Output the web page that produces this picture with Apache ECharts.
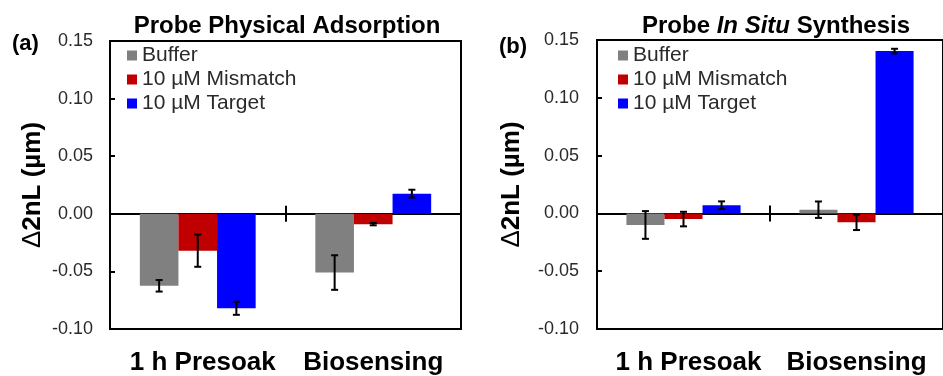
<!DOCTYPE html>
<html>
<head>
<meta charset="utf-8">
<script src="https://cdn.jsdelivr.net/npm/echarts@6/dist/echarts.min.js"></script>
<style>
html,body{margin:0;padding:0;background:#fff;}
#chart{width:943px;height:376px;}
</style>
</head>
<body>
<div id="chart"></div>
<script>
// ---- data ----
const categories = ['1 h Presoak', 'Biosensing'];
const seriesNames = ['Buffer', '10 µM Mismatch', '10 µM Target'];
const seriesColors = ['#808080', '#C00000', '#0000FF'];
const yTicks = { min: -0.10, max: 0.15, interval: 0.05 };

// Panel (a): Probe Physical Adsorption
const aBuffer = [-0.0625, -0.051];
const aBufferErr = [0.005, 0.015];
const aMismatch = [-0.032, -0.009];
const aMismatchErr = [0.014, 0.001];
const aTarget = [-0.082, 0.0175];
const aTargetErr = [0.0057, 0.0034];

// Panel (b): Probe In Situ Synthesis
const bBuffer = [-0.010, 0.0032];
const bBufferErr = [0.012, 0.0071];
const bMismatch = [-0.0049, -0.0077];
const bMismatchErr = [0.0063, 0.0067];
const bTarget = [0.0071, 0.1404];
const bTargetErr = [0.0033, 0.002];

const FONT = 'Liberation Sans, Arial, sans-serif';
const CAT_GAP = 0.34;

function errRender(k) {
  return function (params, api) {
    const ci = api.value(0), v = api.value(1), e = api.value(2);
    const c = api.coord([ci, v]);
    const bandW = api.size([1, 0])[0];
    const barW = bandW * (1 - CAT_GAP) / 3;
    const x = c[0] + (k - 1) * barW;
    const yt = api.coord([ci, v + e])[1];
    const yb = api.coord([ci, v - e])[1];
    const cap = 3.5;
    const st = { stroke: '#000', lineWidth: 2 };
    return {
      type: 'group',
      children: [
        { type: 'line', shape: { x1: x, y1: yt, x2: x, y2: yb }, style: st },
        { type: 'line', shape: { x1: x - cap, y1: yt, x2: x + cap, y2: yt }, style: st },
        { type: 'line', shape: { x1: x - cap, y1: yb, x2: x + cap, y2: yb }, style: st }
      ]
    };
  };
}

const catLabelStyle = { fontFamily: FONT, fontSize: 26, fontWeight: 'bold', color: '#000' };

function makeGridAxes(g, yIdx) {
  const base = { type: 'category', data: categories, gridIndex: g, boundaryGap: true };
  return [
    Object.assign({}, base, {
      position: 'bottom',
      axisLine: { onZero: true, onZeroAxisIndex: yIdx, lineStyle: { color: '#000', width: 2 } },
      axisTick: { show: true, inside: false, length: 8, interval: 0, lineStyle: { color: '#000', width: 2 } },
      axisLabel: { show: false }
    }),
    Object.assign({}, base, {
      position: 'bottom',
      axisLine: { onZero: true, onZeroAxisIndex: yIdx, lineStyle: { color: '#000', width: 2 } },
      axisTick: { show: true, inside: true, length: 8, interval: 0, lineStyle: { color: '#000', width: 2 } },
      axisLabel: { show: false }
    }),
    Object.assign({}, base, {
      position: 'bottom',
      axisLine: { show: false, onZero: false },
      axisTick: { show: false },
      axisLabel: Object.assign({
        show: true, interval: 0, margin: 21,
        formatter: (v, i) => i === 0 ? '{p|' + v + '}' : '{q|' + v + '}',
        rich: {
          p: Object.assign({ padding: [0, 0, 0, 10] }, catLabelStyle),
          q: Object.assign({}, catLabelStyle)
        }
      }, catLabelStyle)
    })
  ];
}

function makeYAxis(g, nameGap, labelMargin) {
  return {
    type: 'value', gridIndex: g,
    min: yTicks.min, max: yTicks.max, interval: yTicks.interval,
    name: '{d|Δ}2nL (µm)', nameLocation: 'middle', nameRotate: 90, nameGap: nameGap,
    nameTextStyle: {
      fontFamily: FONT, fontSize: 26, fontWeight: 'bold', color: '#000',
      rich: { d: { fontFamily: FONT, fontSize: 26, fontWeight: 'normal', color: '#000' } }
    },
    axisLine: { show: true, onZero: false, lineStyle: { color: '#000', width: 2 } },
    axisTick: { show: true, inside: true, length: 5, lineStyle: { color: '#000', width: 2 } },
    splitLine: { show: false },
    axisLabel: {
      margin: labelMargin, fontFamily: FONT, fontSize: 18, color: '#2a2a2a',
      formatter: v => v.toFixed(2)
    }
  };
}

function panelSeries(g, vals, errs) {
  const out = [];
  vals.forEach((arr, k) => {
    out.push({
      type: 'bar', name: seriesNames[k], xAxisIndex: g * 3, yAxisIndex: g,
      data: arr, barGap: '0%', barCategoryGap: (CAT_GAP * 100) + '%',
      itemStyle: { color: seriesColors[k] }, z: 2, animation: false
    });
  });
  vals.forEach((arr, k) => {
    out.push({
      type: 'custom', xAxisIndex: g * 3, yAxisIndex: g, z: 5,
      renderItem: errRender(k),
      encode: { x: 0, y: 1 },
      data: arr.map((v, i) => [i, v, errs[k][i]]),
      animation: false, silent: true
    });
  });
  return out;
}

function makeLegend(left, top) {
  return {
    orient: 'vertical', left: left, top: top, padding: 0,
    itemWidth: 10, itemHeight: 10, itemGap: 3, icon: 'rect',
    data: seriesNames,
    textStyle: { fontFamily: FONT, fontSize: 21, color: '#2a2a2a', lineHeight: 21 },
    selectedMode: false
  };
}

const chart = echarts.init(document.getElementById('chart'), null, { renderer: 'canvas' });
chart.setOption({
  backgroundColor: '#fff',
  animation: false,
  title: [
    { text: 'Probe Physical Adsorption', left: 287, top: 14, textAlign: 'center', padding: 0,
      textStyle: { fontFamily: FONT, fontSize: 24, fontWeight: 'bold', color: '#000' } },
    { text: '{n|Probe }{i|In Situ}{n| Synthesis}', left: 776, top: 14, textAlign: 'center', padding: 0,
      textStyle: { fontFamily: FONT, fontSize: 24, fontWeight: 'bold', color: '#000',
        rich: {
          n: { fontFamily: FONT, fontSize: 24, fontWeight: 'bold', color: '#000' },
          i: { fontFamily: FONT, fontSize: 24, fontWeight: 'bold', fontStyle: 'italic', color: '#000' }
        } } },
    { text: '(a)', left: 12, top: 33, padding: 0,
      textStyle: { fontFamily: FONT, fontSize: 22, fontWeight: 'bold', color: '#000' } },
    { text: '(b)', left: 499, top: 36, padding: 0,
      textStyle: { fontFamily: FONT, fontSize: 22, fontWeight: 'bold', color: '#000' } }
  ],
  legend: [makeLegend(127, 45), makeLegend(618, 45)],
  grid: [
    { left: 110, top: 41, width: 351, height: 291, show: true, borderColor: '#000', borderWidth: 2, backgroundColor: 'transparent', containLabel: false },
    { left: 597, top: 40, width: 353, height: 292, show: true, borderColor: '#000', borderWidth: 2, backgroundColor: 'transparent', containLabel: false }
  ],
  xAxis: makeGridAxes(0, 0).concat(makeGridAxes(1, 1)),
  yAxis: [makeYAxis(0, 64, 17), makeYAxis(1, 72, 18)],
  series: panelSeries(0, [aBuffer, aMismatch, aTarget], [aBufferErr, aMismatchErr, aTargetErr])
    .concat(panelSeries(1, [bBuffer, bMismatch, bTarget], [bBufferErr, bMismatchErr, bTargetErr]))
});
</script>
</body>
</html>
